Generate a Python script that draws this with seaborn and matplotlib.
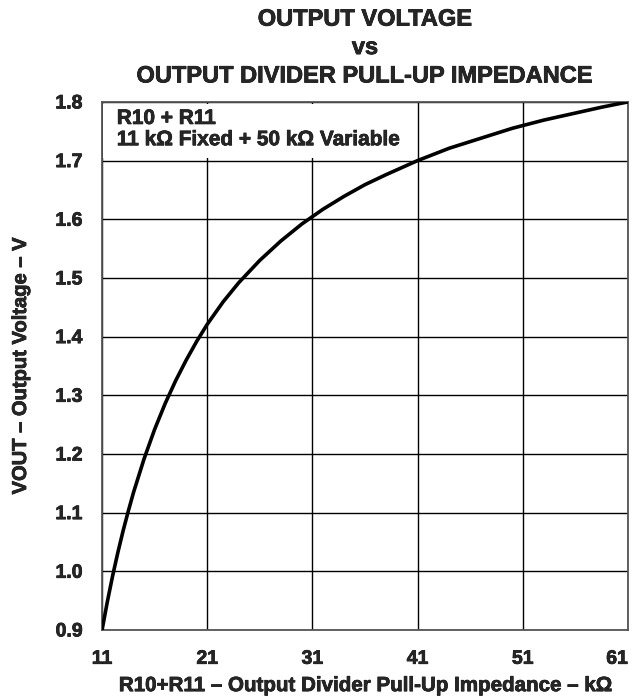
import numpy as np
import pandas as pd
import matplotlib
matplotlib.use("Agg")
import matplotlib.pyplot as plt
import matplotlib.patheffects as pe
import seaborn as sns
from matplotlib.patches import Rectangle

# values
impedance_k = [11, 11.5, 12, 12.5, 13, 13.5, 14, 15, 16, 17, 18, 19, 20, 21, 22.5, 24,
               26, 28, 30, 32, 34, 36, 38, 41, 44, 47, 50, 53, 56, 58.5, 61]
vout = [0.900, 0.948, 0.992, 1.032, 1.069, 1.103, 1.135, 1.192, 1.242, 1.286, 1.325,
        1.360, 1.392, 1.421, 1.459, 1.492, 1.530, 1.563, 1.592, 1.617, 1.639, 1.659,
        1.676, 1.700, 1.721, 1.738, 1.755, 1.769, 1.781, 1.791, 1.800]
x_ticks = [11, 21, 31, 41, 51, 61]
y_ticks = [0.9, 1.0, 1.1, 1.2, 1.3, 1.4, 1.5, 1.6, 1.7, 1.8]

df = pd.DataFrame({"R": impedance_k, "V": vout})

sns.set_style("white")
plt.rcParams['font.family'] = ['Liberation Sans', 'DejaVu Sans']
plt.rcParams['font.weight'] = 'bold'

fig = plt.figure(figsize=(6.34, 6.98), dpi=100)
ax = fig.add_axes([0.161, 0.0975, 0.8295, 0.7565])

sns.lineplot(x="R", y="V", data=df, color="black", linewidth=2.6, ax=ax, zorder=3)

ax.set_xlim(11, 61)
ax.set_ylim(0.9, 1.8)
ax.set_xticks(x_ticks)
ax.set_yticks(y_ticks)
ax.set_xticklabels([str(t) for t in x_ticks], fontsize=14, fontweight='bold')
ax.set_yticklabels([f"{t:.1f}" for t in y_ticks], fontsize=14, fontweight='bold')
ax.get_xticklabels()[-1].set_horizontalalignment('right')
ax.tick_params(axis='x', length=0, pad=15)
ax.tick_params(axis='y', length=0, pad=14)
ax.grid(True, color="black", linewidth=1.0)
ax.set_axisbelow(True)
for s in ax.spines.values():
    s.set_color("#555555")
    s.set_linewidth(1.3)

# white label box over the grid
ax.add_patch(Rectangle((11.1, 1.704), 29.75, 0.093, facecolor="white",
                       edgecolor="none", zorder=1.5))
box = ax.text(12.4, 1.788, "R10 + R11\n11 k\u03a9 Fixed + 50 k\u03a9 Variable",
              fontsize=15, fontweight='bold', va='top', ha='left', linespacing=1.15, zorder=2)

xl = ax.set_xlabel("R10+R11 \u2013 Output Divider Pull-Up Impedance \u2013 k\u03a9",
                   fontsize=14.8, fontweight='bold', labelpad=6)
yl = ax.set_ylabel("VOUT \u2013 Output Voltage \u2013 V", fontsize=14.5, fontweight='bold')
ax.yaxis.set_label_coords(-0.137, 0.5)

tt = ax.set_title("OUTPUT VOLTAGE\nvs\nOUTPUT DIVIDER PULL-UP IMPEDANCE",
                  fontsize=17, fontweight='bold', linespacing=1.3, pad=14)

# heavier strokes like the original print
heavy = [pe.withStroke(linewidth=0.5, foreground="black")]
for t in [box, xl, yl, tt] + ax.get_xticklabels() + ax.get_yticklabels():
    t.set_path_effects(heavy)

fig.savefig("out.png", dpi=100)
